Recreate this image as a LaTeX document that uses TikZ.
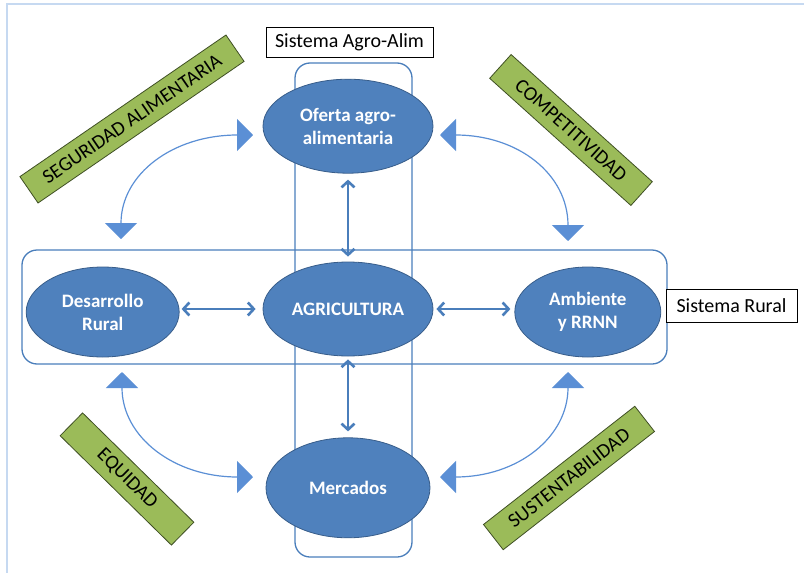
\documentclass[tikz,border=0pt]{standalone}
\usepackage{fontspec}
\setmainfont{Carlito}
\usetikzlibrary{shapes.geometric,arrows.meta,positioning}
\definecolor{elfill}{HTML}{4F81BD}
\definecolor{eldraw}{HTML}{385D8A}
\definecolor{tagfill}{HTML}{9BBB59}
\definecolor{tagdraw}{HTML}{3F4F24}
\definecolor{linec}{HTML}{4A7EBB}
\definecolor{curvec}{HTML}{5B8FD5}
\definecolor{framec}{HTML}{C6D9F1}

\begin{document}
\begin{tikzpicture}[x=1pt,y=-1pt,
  el/.style={ellipse,fill=elfill,draw=eldraw,line width=0.8pt,inner sep=0pt,
    minimum width=170pt,minimum height=94pt,text=white,align=center,
    font=\fontsize{19}{23}\selectfont\bfseries},
  lbl/.style={draw=black,line width=0.8pt,fill=white,inner sep=0pt,
    font=\fontsize{20}{24}\selectfont},
  tag/.style={draw=tagdraw,fill=tagfill,line width=0.8pt,inner sep=0pt,
    minimum height=32pt,font=\fontsize{20}{24}\selectfont},
  sys/.style={draw=linec,line width=1.3pt,rounded corners=15pt},
  dbl/.style={linec,line width=2.6pt,
    {Straight Barb[length=6pt,width=13pt]}-{Straight Barb[length=6pt,width=13pt]}},
  bow/.style={curvec,line width=1.2pt,
    {Triangle[length=16pt,width=32pt]}-{Triangle[length=16pt,width=32pt]}}]
\useasboundingbox (0,0) rectangle (804,573);
\draw[framec,line width=1.5pt] (7,573) -- (7,4) -- (804,4);
% the two systems
\draw[sys] (295,63) rectangle (412,557);
\draw[sys] (22,250) rectangle (667,364);
\node[el](ag) at (348,309) {AGRICULTURA};
\node[el,above=88pt of ag](of) {Oferta agro-\\alimentaria};
\node[el,below=81pt of ag,minimum width=164pt,minimum height=100pt](me) {Mercados};
\node[el,left=83pt of ag,minimum width=153pt,minimum height=90pt,yshift=-3pt](dr) {Desarrollo\\Rural};
\node[el,right=81pt of ag,minimum width=146pt,minimum height=90pt,yshift=-3pt](am) {Ambiente\\y RRNN};
\node[lbl,minimum width=167pt,minimum height=30pt](sa) at (349.5,42) {Sistema Agro-Alim};
\node[lbl,minimum width=131pt,minimum height=33pt](sr) at (731.5,305.5) {Sistema Rural};
\node[tag,rotate=34.5,minimum width=250pt](sg) at (132,119) {SEGURIDAD ALIMENTARIA};
\node[tag,rotate=-42,minimum width=190pt](cp) at (571,130) {COMPETITIVIDAD};
\node[tag,rotate=-44.5,minimum width=156pt](eq) at (127,479) {EQUIDAD};
\node[tag,rotate=38,minimum width=192pt](su) at (569,478) {SUSTENTABILIDAD};
\draw[dbl,shorten <=6pt,shorten >=5pt] (of) -- (ag);
\draw[dbl,shorten <=3pt,shorten >=6pt] (ag) -- (me);
\draw[dbl,shorten <=2pt,shorten >=7pt] (dr.east |- ag.west) -- (ag.west);
\draw[dbl,shorten <=3pt,shorten >=4pt] (ag.east) -- (am.west |- ag.east);
% curved links
\coordinate (c1) at (121,239); \coordinate (c2) at (253,135);
\coordinate (c3) at (440,135); \coordinate (c4) at (568,241);
\coordinate (c5) at (122,372); \coordinate (c6) at (253,477);
\coordinate (c7) at (568,372); \coordinate (c8) at (440,477);
\draw[bow] (c1) .. controls (121,174) and (173,135) .. (c2);
\draw[bow] (c3) .. controls (518,135) and (568,174) .. (c4);
\draw[bow] (c5) .. controls (122,437) and (174,477) .. (c6);
\draw[bow] (c7) .. controls (568,437) and (518,477) .. (c8);
\end{tikzpicture}
\end{document}
